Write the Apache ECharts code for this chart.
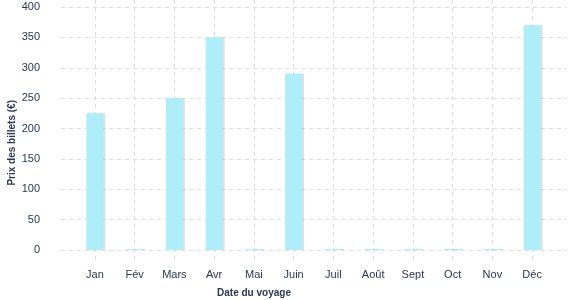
<!DOCTYPE html>
<html><head><meta charset="utf-8">
<script src="https://cdn.jsdelivr.net/npm/echarts@6/dist/echarts.min.js"></script>
<style>html,body{margin:0;padding:0;background:#fff}#c{width:577px;height:300px}</style>
</head><body><div id="c"></div>
<script>
const categories = ['Jan','Fév','Mars','Avr','Mai','Juin','Juil','Août','Sept','Oct','Nov','Déc'];
const prices = [225, 0, 250, 350, 0, 290, 0, 0, 0, 0, 0, 370];
const yTicks = [0, 50, 100, 150, 200, 250, 300, 350, 400];
const yTitle = 'Prix des billets (€)';
const xTitle = 'Date du voyage';

const font = '"Liberation Sans", Arial, sans-serif';
const textColor = '#2b3752';
const gridColor = '#dddddd';
const chart = echarts.init(document.getElementById('c'));
chart.setOption({
  animation: false,
  grid: [
    {left: 61, right: 10, top: 7, bottom: 50, z: 0},
    {left: 75, right: 25, top: 0, bottom: 38, z: 0}
  ],
  xAxis: [
    {gridIndex: 0, type: 'category', data: categories, show: false, z: 0},
    {gridIndex: 1, type: 'category', data: categories, z: 0,
     axisLine: {show: false}, axisTick: {show: false},
     axisLabel: {color: textColor, fontFamily: font, fontSize: 11, margin: 7},
     splitLine: {show: true, alignWithLabel: true, lineStyle: {color: gridColor, type: [4, 4], width: 1}}}
  ],
  yAxis: [
    {gridIndex: 0, type: 'value', min: yTicks[0], max: yTicks[yTicks.length-1], interval: 50, z: 0,
     axisLine: {show: false}, axisTick: {show: false},
     axisLabel: {color: textColor, fontFamily: font, fontSize: 11, margin: 21},
     splitLine: {lineStyle: {color: gridColor, type: [4, 4], width: 1}}},
    {gridIndex: 1, type: 'value', min: -19.75, max: 411.5, show: false, splitLine: {show: false}}
  ],
  graphic: [
    {type: 'text', left: 7, top: 100, rotation: Math.PI/2,
     style: {text: yTitle, fill: textColor, font: 'bold 10px ' + font, textAlign: 'center', textVerticalAlign: 'middle', x: 0, y: 0}},
    {type: 'text', x: 254, y: 293,
     style: {text: xTitle, fill: textColor, font: 'bold 10px ' + font, textAlign: 'center', textVerticalAlign: 'middle'}}
  ],
  series: [{
    type: 'bar', xAxisIndex: 1, yAxisIndex: 1, data: prices, z: 10,
    barWidth: 17, barMinHeight: 1,
    itemStyle: {color: '#aeeef8', shadowColor: 'rgba(0,0,0,0.12)', shadowOffsetX: 2, shadowBlur: 0}
  }]
});
</script></body></html>
